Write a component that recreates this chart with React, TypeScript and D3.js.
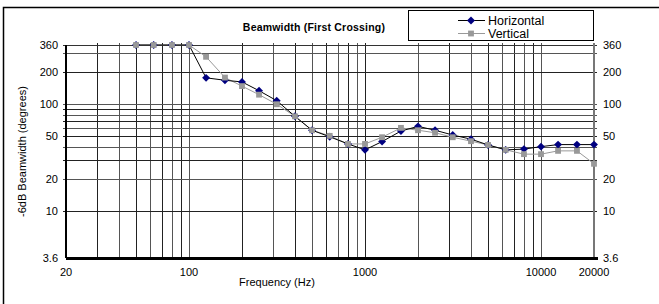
import { useEffect, useRef } from "react";
import * as d3 from "d3";

// 1/3 octave frequencies (Hz)
const freqs = [
  50, 63, 80, 100, 125, 160, 200, 250, 315, 400, 500, 630, 800, 1000, 1250,
  1600, 2000, 2500, 3150, 4000, 5000, 6300, 8000, 10000, 12500, 16000, 20000
];
const horizontal = [
  360, 360, 360, 360, 177, 168, 162, 134, 108, 77, 57, 49.5, 42.4, 37.3, 44.6,
  56, 62, 57, 51.4, 47, 41.5, 37.3, 37.9, 40, 41.8, 41.8, 41.8
];
const vertical = [
  360, 360, 360, 360, 279, 178, 148, 123, 100, 77, 57, 50.5, 42.4, 42.4, 49,
  60, 57, 54, 49, 45, 41.5, 37.3, 34, 34, 36.5, 36.5, 27.6
];
const xTicks = [20, 100, 1000, 10000, 20000];
const yTicks = [3.6, 10, 20, 50, 100, 200, 360];
const xGrid = [
  30, 40, 50, 60, 70, 80, 90, 100, 200, 300, 400, 500, 600, 700, 800, 900,
  1000, 2000, 3000, 4000, 5000, 6000, 7000, 8000, 9000, 10000
];
const yGrid = [10, 20, 30, 40, 50, 60, 70, 80, 90, 100, 200, 300];

const FONT = "'Liberation Sans', Arial, sans-serif";

export default function App() {
  const ref = useRef<SVGSVGElement | null>(null);

  useEffect(() => {
    if (!ref.current) return;
    const svg = d3.select(ref.current);
    svg.selectAll("*").remove();

    const width = 659;
    const height = 304;
    const left = 66, right = 594, top = 45, bottom = 258;

    const x = d3.scaleLog().domain([20, 20000]).range([left, right]);
    const y = d3.scaleLog().domain([3.6, 360]).range([bottom, top]);

    svg.append("rect").attr("width", width).attr("height", height).attr("fill", "#fff");

    // outer frame
    svg.append("rect")
      .attr("x", 3.5).attr("y", 7.5)
      .attr("width", width + 10).attr("height", height + 10)
      .attr("fill", "none").attr("stroke", "#000").attr("stroke-width", 1.5);

    const grid = svg.append("g").attr("shape-rendering", "crispEdges");

    // vertical grid lines
    grid.selectAll(".vg")
      .data(xGrid)
      .enter()
      .append("line")
      .attr("x1", d => Math.round(x(d)) + 0.5)
      .attr("x2", d => Math.round(x(d)) + 0.5)
      .attr("y1", top - 2)
      .attr("y2", bottom)
      .attr("stroke", (d, i) => (i % 2 === 0 ? "#222" : "#555"))
      .attr("stroke-width", 1);

    // horizontal grid lines
    grid.selectAll(".hg")
      .data(yGrid)
      .enter()
      .append("line")
      .attr("x1", left - 3)
      .attr("x2", right + 3)
      .attr("y1", d => Math.round(y(d)) + 0.5)
      .attr("y2", d => Math.round(y(d)) + 0.5)
      .attr("stroke", (d, i) => (i % 2 === 0 ? "#222" : "#555"))
      .attr("stroke-width", 1);

    // top line
    grid.append("line")
      .attr("x1", left - 3).attr("x2", right + 3)
      .attr("y1", Math.round(y(360)) + 0.5).attr("y2", Math.round(y(360)) + 0.5)
      .attr("stroke", "#333");

    // axes
    grid.append("line")
      .attr("x1", left).attr("x2", left)
      .attr("y1", top).attr("y2", bottom)
      .attr("stroke", "#000").attr("stroke-width", 2);
    grid.append("line")
      .attr("x1", right).attr("x2", right)
      .attr("y1", top - 2).attr("y2", bottom)
      .attr("stroke", "#777").attr("stroke-width", 2);
    grid.append("line")
      .attr("x1", left).attr("x2", right + 4)
      .attr("y1", bottom).attr("y2", bottom)
      .attr("stroke", "#000").attr("stroke-width", 3);

    // tick labels
    svg.append("g")
      .selectAll("text")
      .data(yTicks)
      .enter()
      .append("text")
      .attr("x", left - 8)
      .attr("y", d => y(d))
      .attr("dy", "0.35em")
      .attr("text-anchor", "end")
      .style("font-family", FONT)
      .style("font-size", "11px")
      .text(d => String(d));

    svg.append("g")
      .selectAll("text")
      .data(yTicks)
      .enter()
      .append("text")
      .attr("x", right + 9)
      .attr("y", d => y(d))
      .attr("dy", "0.35em")
      .attr("text-anchor", "start")
      .style("font-family", FONT)
      .style("font-size", "11px")
      .text(d => String(d));

    svg.append("g")
      .selectAll("text")
      .data(xTicks)
      .enter()
      .append("text")
      .attr("x", d => x(d))
      .attr("y", 276)
      .attr("text-anchor", "middle")
      .style("font-family", FONT)
      .style("font-size", "11px")
      .text(d => String(d));

    // axis titles
    svg.append("text")
      .attr("x", 277).attr("y", 286)
      .attr("text-anchor", "middle")
      .style("font-family", FONT)
      .style("font-size", "11px")
      .text("Frequency (Hz)");

    svg.append("text")
      .attr("transform", `translate(26, ${(top + bottom) / 2}) rotate(-90)`)
      .attr("text-anchor", "middle")
      .style("font-family", FONT)
      .style("font-size", "11px")
      .text("-6dB Beamwidth (degrees)");

    svg.append("text")
      .attr("x", 314).attr("y", 31)
      .attr("text-anchor", "middle")
      .style("font-family", FONT)
      .style("font-size", "10.5px")
      .style("font-weight", "bold")
      .style("letter-spacing", "0.2px")
      .text("Beamwidth (First Crossing)");

    // series
    const hData = freqs.map((f, i) => ({ f, v: horizontal[i] }));
    const vData = freqs.map((f, i) => ({ f, v: vertical[i] }));
    const line = d3.line<{ f: number; v: number }>()
      .x(d => x(d.f))
      .y(d => y(d.v));

    svg.append("path")
      .datum(vData)
      .attr("d", line)
      .attr("fill", "none")
      .attr("stroke", "#999")
      .attr("stroke-width", 1);

    svg.append("path")
      .datum(hData)
      .attr("d", line)
      .attr("fill", "none")
      .attr("stroke", "#000")
      .attr("stroke-width", 1);

    const diamond = d3.symbol().type(d3.symbolDiamond2).size(40);
    const square = d3.symbol().type(d3.symbolSquare).size(34);

    svg.append("g")
      .selectAll("path")
      .data(hData)
      .enter()
      .append("path")
      .attr("d", diamond)
      .attr("transform", d => `translate(${x(d.f)}, ${y(d.v)})`)
      .attr("fill", "#000080");

    svg.append("g")
      .selectAll("path")
      .data(vData)
      .enter()
      .append("path")
      .attr("d", square)
      .attr("transform", d => `translate(${x(d.f)}, ${y(d.v)})`)
      .attr("fill", "#999");

    // legend
    const lg = svg.append("g");
    lg.append("rect")
      .attr("x", 408.5).attr("y", 10.5)
      .attr("width", 185).attr("height", 30)
      .attr("fill", "#fff").attr("stroke", "#000");
    const entries = [
      { name: "Horizontal", color: "#000", mColor: "#000080", sym: diamond, yy: 20.5 },
      { name: "Vertical", color: "#999", mColor: "#999", sym: square, yy: 33.5 }
    ];
    entries.forEach(e => {
      lg.append("line")
        .attr("x1", 458).attr("x2", 485)
        .attr("y1", e.yy).attr("y2", e.yy)
        .attr("stroke", e.color);
      lg.append("path")
        .attr("d", e.sym)
        .attr("transform", `translate(471, ${e.yy})`)
        .attr("fill", e.mColor);
      lg.append("text")
        .attr("x", 488).attr("y", e.yy)
        .attr("dy", "0.35em")
        .style("font-family", FONT)
        .style("font-size", "12.5px")
        .text(e.name);
    });
  }, []);

  return (
    <svg
      ref={ref}
      width={659}
      height={304}
      style={{ position: "absolute", left: 0, top: 0 }}
    />
  );
}
